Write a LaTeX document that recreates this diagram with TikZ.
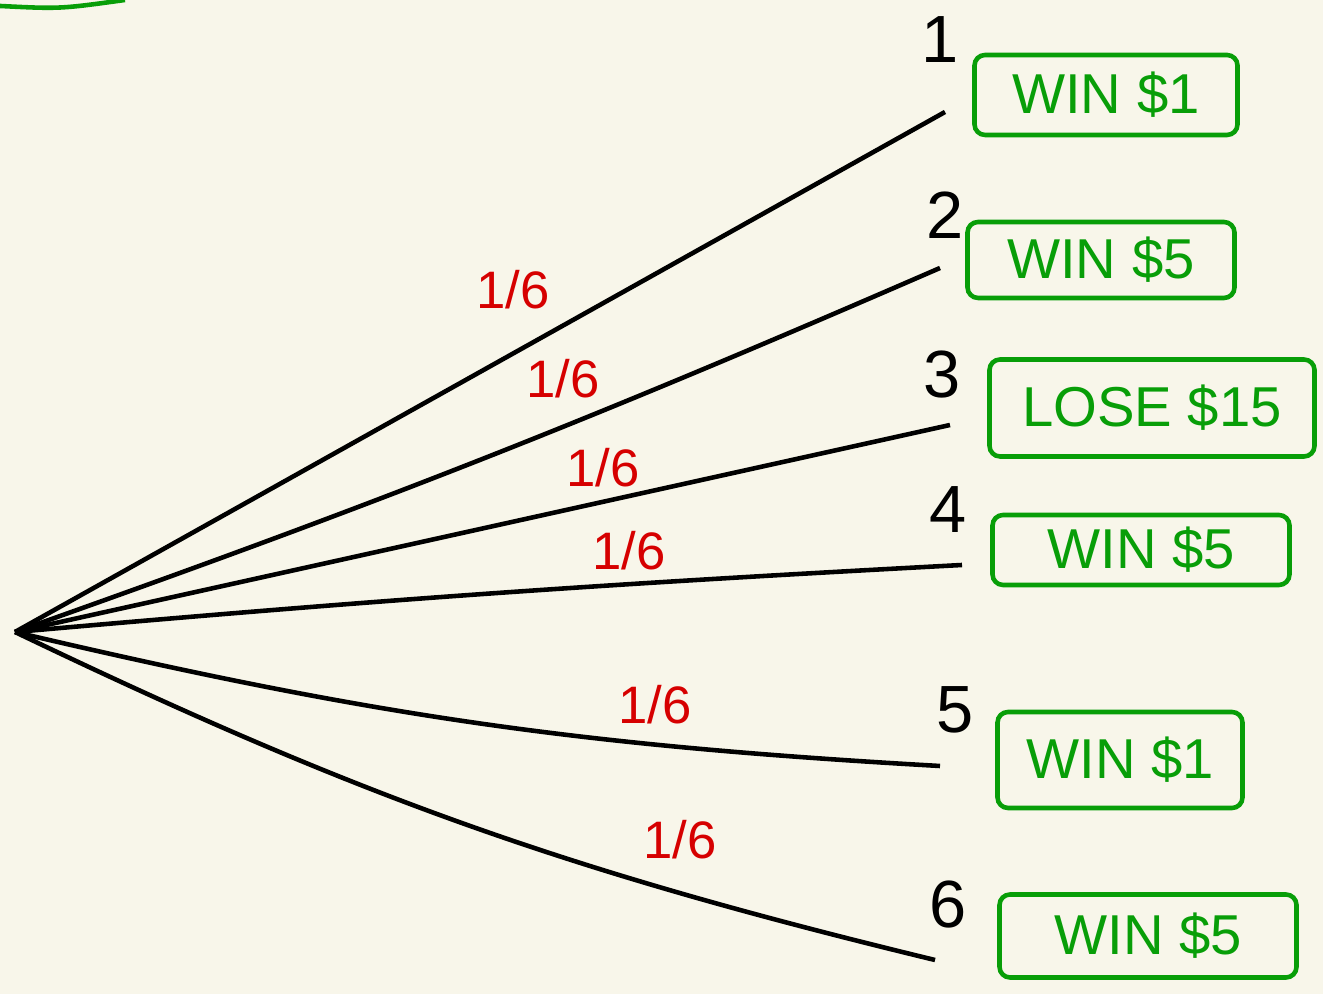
\documentclass[tikz,border=0pt]{standalone}
\usepackage{tikz}
\usepackage{fontspec}
\setmainfont{Liberation Sans}
\usetikzlibrary{arrows}

\definecolor{paper}{RGB}{248,246,234}
\definecolor{pen}{RGB}{8,158,8}
\definecolor{ink}{RGB}{214,0,0}

\tikzset{
	branch/.style={line width=1.3pt, black},
	payoff/.style={draw=pen, text=pen, line width=1.3pt, rounded corners=3pt, inner sep=0pt, font=\fontsize{16}{18}\selectfont},
	prob/.style={text=ink, font=\fontsize{15}{17}\selectfont},
	face/.style={font=\fontsize{19}{21}\selectfont}
}

\begin{document}
\begin{tikzpicture}
	\fill[paper] (0,0) rectangle (13.23,9.94);
	\useasboundingbox (0,0) rectangle (13.23,9.94);
	\draw[pen, line width=1.3pt] (0,9.88) .. controls (0.6,9.85) .. (1.25,9.94);

	% the die roll and its six outcomes
	\coordinate (root) at (0.15,3.62);
	\coordinate (e1) at (9.45,8.82);
	\coordinate (e2) at (9.40,7.26);
	\coordinate (e3) at (9.50,5.69);
	\coordinate (e4) at (9.62,4.29);
	\coordinate (e5) at (9.40,2.28);
	\coordinate (e6) at (9.35,0.34);

	\draw[branch] (root) -- (e1);
	\draw[branch] (root) to[bend right=2] (e2);
	\draw[branch] (root) -- (e3);
	\draw[branch] (root) to[bend left=1] (e4);
	\draw[branch] (root) to[bend right=5] (e5);
	\draw[branch] (root) to[bend right=6] (e6);

	\node[face] (n1) at (9.40,9.54) {1};
	\node[face] (n2) at (9.45,7.79) {2};
	\node[face] (n3) at (9.42,6.19) {3};
	\node[face] (n4) at (9.48,4.84) {4};
	\node[face] (n5) at (9.55,2.84) {5};
	\node[face] (n6) at (9.48,0.89) {6};

	\node[prob] (p1) at (5.13,7.04) {1/6};
	\node[prob] (p2) at (5.63,6.15) {1/6};
	\node[prob] (p3) at (6.03,5.26) {1/6};
	\node[prob] (p4) at (6.29,4.43) {1/6};
	\node[prob] (p5) at (6.55,2.89) {1/6};
	\node[prob] (p6) at (6.80,1.54) {1/6};

	% payoffs
	\node[payoff, minimum width=2.63cm, minimum height=0.80cm] (b1) at (11.06,8.99) {WIN \$1};
	\node[payoff, minimum width=2.67cm, minimum height=0.76cm] (b2) at (11.01,7.34) {WIN \$5};
	\node[payoff, minimum width=3.25cm, minimum height=0.97cm] (b3) at (11.52,5.86) {LOSE \$15};
	\node[payoff, minimum width=2.97cm, minimum height=0.70cm] (b4) at (11.41,4.44) {WIN \$5};
	\node[payoff, minimum width=2.45cm, minimum height=0.96cm] (b5) at (11.20,2.34) {WIN \$1};
	\node[payoff, minimum width=2.97cm, minimum height=0.83cm] (b6) at (11.48,0.58) {WIN \$5};
\end{tikzpicture}
\end{document}
